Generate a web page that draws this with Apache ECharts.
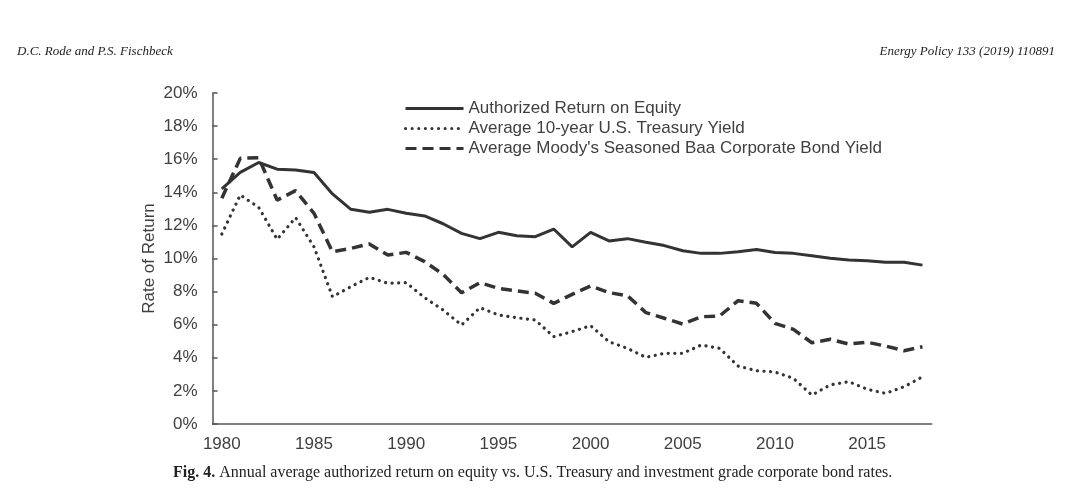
<!DOCTYPE html>
<html>
<head>
<meta charset="utf-8">
<script src="https://cdn.jsdelivr.net/npm/echarts@6/dist/echarts.min.js"></script>
<style>
  html, body { margin: 0; padding: 0; background: #fff; }
  #chart { width: 1075px; height: 499px; }
</style>
</head>
<body>
<div id="chart"></div>
<script>
// years on the category axis
const years = [];
for (let y = 1980; y <= 2018; y++) years.push(String(y));

// values (percent)
const roe = [
  14.2, 15.2, 15.8, 15.4, 15.35, 15.2, 13.9, 12.97, 12.8, 12.97,
  12.73, 12.57, 12.1, 11.52, 11.2, 11.58, 11.38, 11.32, 11.78, 10.7,
  11.58, 11.06, 11.2, 10.98, 10.78, 10.47, 10.31, 10.31, 10.41, 10.55,
  10.36, 10.31, 10.17, 10.01, 9.91, 9.87, 9.77, 9.77, 9.6
];
const treasury = [
  11.48, 13.84, 13.09, 11.16, 12.47, 10.7, 7.69, 8.3, 8.86, 8.5,
  8.54, 7.63, 6.89, 5.98, 7.03, 6.59, 6.42, 6.28, 5.28, 5.58,
  5.94, 4.97, 4.57, 4.03, 4.27, 4.27, 4.77, 4.57, 3.5, 3.22,
  3.14, 2.76, 1.75, 2.36, 2.56, 2.1, 1.85, 2.25, 2.85
];
const baa = [
  13.64, 16.05, 16.09, 13.53, 14.1, 12.73, 10.41, 10.61, 10.88, 10.21,
  10.37, 9.81, 9.04, 7.93, 8.54, 8.2, 8.04, 7.9, 7.29, 7.83,
  8.34, 7.94, 7.75, 6.73, 6.39, 6.04, 6.48, 6.53, 7.45, 7.29,
  6.08, 5.72, 4.91, 5.12, 4.83, 4.94, 4.71, 4.43, 4.67
];

const seriesNames = [
  'Authorized Return on Equity',
  'Average 10-year U.S. Treasury Yield',
  "Average Moody's Seasoned Baa Corporate Bond Yield"
];

const ink = '#333333';
const sans = 'Liberation Sans, Arial, sans-serif';
const serif = 'Liberation Serif, DejaVu Serif, serif';

const chart = echarts.init(document.getElementById('chart'));

const option = {
  animation: false,
  backgroundColor: '#ffffff',
  graphic: [
    {
      type: 'text', left: 17, top: 45,
      style: { text: 'D.C. Rode and P.S. Fischbeck', font: 'italic 13px ' + serif, fill: '#222' }
    },
    {
      type: 'text', right: 20, top: 45,
      style: { text: 'Energy Policy 133 (2019) 110891', font: 'italic 13px ' + serif, fill: '#222' }
    },
    {
      type: 'text', left: 173, top: 465,
      style: {
        text: '{b|Fig. 4.} Annual average authorized return on equity vs. U.S. Treasury and investment grade corporate bond rates.',
        font: '16px ' + serif,
        fill: '#222',
        rich: {
          b: { fontWeight: 'bold', fontFamily: serif, fontSize: 16, fill: '#222' }
        }
      }
    }
  ],
  legend: {
    orient: 'vertical',
    left: 404,
    top: 100,
    padding: 0,
    itemWidth: 58,
    itemHeight: 14,
    itemGap: 3,
    itemStyle: { opacity: 0 },
    lineStyle: { width: 3 },
    textStyle: { fontFamily: sans, fontSize: 17, color: '#404040' },
    data: seriesNames
  },
  grid: { left: 212.6, right: 143.3, top: 93, bottom: 75 },
  xAxis: {
    type: 'category',
    data: years,
    boundaryGap: true,
    axisLine: { lineStyle: { color: '#555', width: 1.5 } },
    axisTick: { inside: true, length: 5, interval: 4, lineStyle: { color: '#555', width: 1.5 } },
    axisLabel: { interval: 4, fontFamily: sans, fontSize: 17, color: '#404040', margin: 12 }
  },
  yAxis: {
    type: 'value',
    min: 0,
    max: 20,
    interval: 2,
    name: 'Rate of Return',
    nameLocation: 'middle',
    nameGap: 55,
    nameMoveOverlap: false,
    nameTextStyle: { fontFamily: sans, fontSize: 17, color: '#404040' },
    splitLine: { show: false },
    axisLine: { show: true, lineStyle: { color: '#555', width: 1.5 } },
    axisTick: { show: true, inside: true, length: 5, lineStyle: { color: '#555', width: 1.5 } },
    axisLabel: { formatter: '{value}%', fontFamily: sans, fontSize: 17, color: '#404040', margin: 15 }
  },
  series: [
    {
      name: seriesNames[0], type: 'line', data: roe, symbol: 'none',
      itemStyle: { color: ink },
      lineStyle: { color: ink, width: 3 }
    },
    {
      name: seriesNames[1], type: 'line', data: treasury, symbol: 'none',
      itemStyle: { color: ink },
      lineStyle: { color: ink, width: 3.2, type: [0.1, 6.5], cap: 'round' }
    },
    {
      name: seriesNames[2], type: 'line', data: baa, symbol: 'none',
      itemStyle: { color: ink },
      lineStyle: { color: ink, width: 3.5, type: [11, 6] }
    }
  ]
};

chart.setOption(option);
</script>
</body>
</html>
